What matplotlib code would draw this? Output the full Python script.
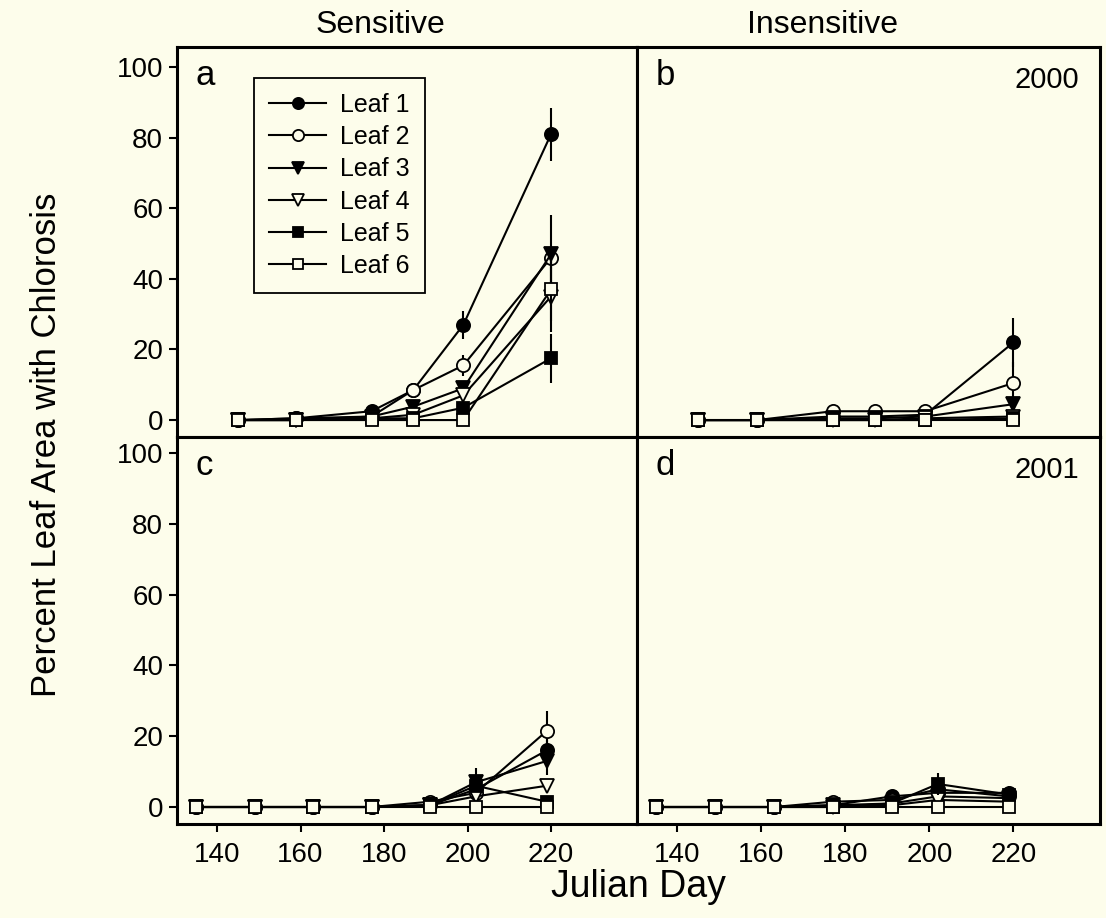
import matplotlib.pyplot as plt

plt.rcParams['font.family'] = ['Liberation Sans', 'DejaVu Sans']

bg = '#fdfdeb'

leaf_labels = ['Leaf 1', 'Leaf 2', 'Leaf 3', 'Leaf 4', 'Leaf 5', 'Leaf 6']

days_2000 = [145, 159, 177, 187, 199, 220]
days_2001 = [135, 149, 163, 177, 191, 202, 219]

# panel a - sensitive 2000
sens_2000 = [
    [0, 0.5, 2.5, 8.5, 27, 81],
    [0, 0.5, 1, 8.5, 15.5, 46],
    [0, 0, 1, 3.8, 9, 47],
    [0, 0, 0.5, 1.5, 7, 35],
    [0, 0, 0.5, 0.5, 3.5, 17.5],
    [0, 0, 0, 0, 0, 37],
]
sens_2000_err = [
    [0, 0, 0, 0, 4, 7.5],
    [0, 0, 0, 1.5, 3, 0],
    [0, 0, 0, 0, 1.5, 11],
    [0, 0, 0, 0, 0, 10],
    [0, 0, 0, 0, 0, 7],
    [0, 0, 0, 0, 0, 9],
]

# panel b - insensitive 2000
ins_2000 = [
    [0, 0, 1, 1, 1.5, 22],
    [0, 0, 2.5, 2.5, 2.5, 10.5],
    [0, 0, 0.5, 0.5, 1, 4.5],
    [0, 0, 0, 0, 0.5, 1],
    [0, 0, 0, 0, 0, 0.5],
    [0, 0, 0, 0, 0, 0],
]
ins_2000_err = [
    [0, 0, 0, 0, 0, 7],
    [0, 0, 0, 0, 0, 6],
    [0, 0, 0, 0, 0, 2],
    [0, 0, 0, 0, 0, 0],
    [0, 0, 0, 0, 0, 0],
    [0, 0, 0, 0, 0, 0],
]

# panel c - sensitive 2001
sens_2001 = [
    [0, 0, 0, 0, 0.5, 5, 16],
    [0, 0, 0, 0, 1.5, 4, 21.5],
    [0, 0, 0, 0, 0.5, 7, 13],
    [0, 0, 0, 0, 0.5, 3, 6],
    [0, 0, 0, 0, 0.5, 6, 1.5],
    [0, 0, 0, 0, 0, 0, 0],
]
sens_2001_err = [
    [0, 0, 0, 0, 0, 0, 3],
    [0, 0, 0, 0, 0, 0, 5.5],
    [0, 0, 0, 0, 0, 4, 4],
    [0, 0, 0, 0, 0, 0, 2],
    [0, 0, 0, 0, 0, 0, 0],
    [0, 0, 0, 0, 0, 0, 0],
]

# panel d - insensitive 2001
ins_2001 = [
    [0, 0, 0, 0.5, 3, 4, 4],
    [0, 0, 0, 1.5, 2, 5, 3],
    [0, 0, 0, 0.5, 1, 3, 2.5],
    [0, 0, 0, 0, 0.5, 2, 1.5],
    [0, 0, 0, 0, 1, 6.5, 3.5],
    [0, 0, 0, 0, 0, 0, 0],
]
ins_2001_err = [
    [0, 0, 0, 0, 0, 0, 2],
    [0, 0, 0, 0, 0, 0, 0],
    [0, 0, 0, 0, 0, 0, 0],
    [0, 0, 0, 0, 0, 0, 0],
    [0, 0, 0, 0, 0, 3, 0],
    [0, 0, 0, 0, 0, 0, 0],
]

markers = ['o', 'o', 'v', 'v', 's', 's']
fills = ['black', bg, 'black', bg, 'black', bg]
sizes = [9.5, 9.5, 9.5, 9.5, 8.5, 8.5]

fig = plt.figure(figsize=(11.06, 9.18), dpi=100, facecolor=bg)

W = 1106
H = 918
left = 177 / W
mid = 637 / W
right = 1100 / W
top = 1 - 47 / H
hmid = 1 - 437 / H
bot = 1 - 824 / H

ax_a = fig.add_axes([left, hmid, mid - left, top - hmid])
ax_b = fig.add_axes([mid, hmid, right - mid, top - hmid])
ax_c = fig.add_axes([left, bot, mid - left, hmid - bot])
ax_d = fig.add_axes([mid, bot, right - mid, hmid - bot])


def draw(ax, days, vals, errs):
    lines = []
    for i in range(6):
        c = ax.errorbar(days, vals[i], yerr=errs[i], color='black', lw=1.5,
                        marker=markers[i], ms=sizes[i], mfc=fills[i], mec='black',
                        mew=1.3, capsize=0, elinewidth=1.5, label=leaf_labels[i],
                        zorder=3 + i)
        lines.append(c.lines[0])
    return lines


handles = draw(ax_a, days_2000, sens_2000, sens_2000_err)
draw(ax_b, days_2000, ins_2000, ins_2000_err)
draw(ax_c, days_2001, sens_2001, sens_2001_err)
draw(ax_d, days_2001, ins_2001, ins_2001_err)

for ax in [ax_a, ax_b, ax_c, ax_d]:
    ax.set_facecolor(bg)
    ax.set_xlim(130.4, 240.6)
    for s in ax.spines.values():
        s.set_linewidth(2.2)
    ax.set_xticks([140, 160, 180, 200, 220])
    ax.set_yticks([0, 20, 40, 60, 80, 100])
    ax.tick_params(direction='out', length=6, width=1.5, labelsize=20)
    ax.tick_params(axis='y', pad=4)
    ax.tick_params(axis='x', pad=7)

ax_a.set_ylim(-4.8, 105.7)
ax_b.set_ylim(-4.8, 105.7)
ax_c.set_ylim(-4.8, 104.5)
ax_d.set_ylim(-4.8, 104.5)

for ax in [ax_a, ax_b]:
    ax.tick_params(bottom=False, labelbottom=False)
for ax in [ax_b, ax_d]:
    ax.tick_params(left=False, labelleft=False)

for ax, letter in zip([ax_a, ax_b, ax_c, ax_d], ['a', 'b', 'c', 'd']):
    ax.text(0.04, 0.97, letter, transform=ax.transAxes, fontsize=25,
            va='top', ha='left')

ax_b.text(0.955, 0.95, '2000', transform=ax_b.transAxes, fontsize=21,
          va='top', ha='right')
ax_d.text(0.955, 0.95, '2001', transform=ax_d.transAxes, fontsize=21,
          va='top', ha='right')

leg = ax_a.legend(handles, leaf_labels, loc='upper left',
                  bbox_to_anchor=(0.167, 0.921),
                  borderaxespad=0, fontsize=18, handlelength=2.3,
                  handletextpad=0.55, labelspacing=0.33, borderpad=0.6,
                  fancybox=False, framealpha=1, facecolor=bg,
                  edgecolor='black', markerscale=0.85)
leg.get_frame().set_linewidth(1.3)

fig.text(380 / W, 1 - 25 / H, 'Sensitive', fontsize=23, ha='center', va='center')
fig.text(822 / W, 1 - 25 / H, 'Insensitive', fontsize=23, ha='center', va='center')
fig.text(638 / W, 1 - 887 / H, 'Julian Day', fontsize=27, ha='center', va='center')
fig.text(47 / W, 1 - 445 / H, 'Percent Leaf Area with Chlorosis', fontsize=25,
         ha='center', va='center', rotation=90)

fig.savefig('out.png', dpi=100, facecolor=bg)
